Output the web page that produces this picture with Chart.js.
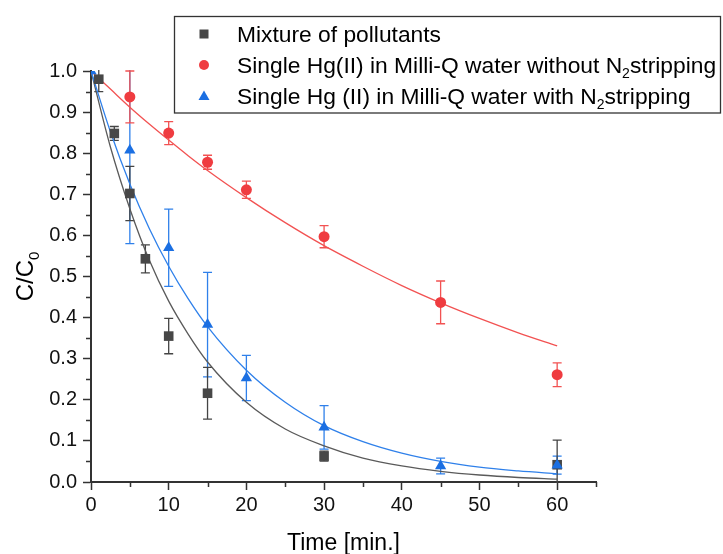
<!DOCTYPE html>
<html><head><meta charset="utf-8">
<script src="https://cdn.jsdelivr.net/npm/chart.js@4/dist/chart.umd.min.js"></script>
<style>html,body{margin:0;padding:0;background:#fff}#wrap{width:723px;height:554px}</style>
</head><body><div id="wrap"><canvas id="c" width="723" height="554"></canvas></div>
<script>
const FONT = '"Liberation Sans", Arial, sans-serif';

// ---- data ----
const xTicks = [0, 10, 20, 30, 40, 50, 60];
const yTicks = [0.0, 0.1, 0.2, 0.3, 0.4, 0.5, 0.6, 0.7, 0.8, 0.9, 1.0];

const timeMix = [1, 3, 5, 7, 10, 15, 30, 60];
const mixValues = [0.98, 0.848, 0.702, 0.543, 0.355, 0.216, 0.063, 0.042];
const mixErrors = [0.03, 0.017, 0.066, 0.034, 0.043, 0.063, 0.012, 0.060];

const timeRed = [5, 10, 15, 20, 30, 45, 60];
const redValues = [0.937, 0.849, 0.778, 0.711, 0.597, 0.437, 0.261];
const redErrors = [0.063, 0.028, 0.017, 0.021, 0.027, 0.052, 0.029];

const timeBlue = [0, 5, 10, 15, 20, 30, 45, 60];
const blueValues = [1.0, 0.807, 0.57, 0.383, 0.253, 0.133, 0.039, 0.041];
const blueErrors = [0, 0.227, 0.094, 0.127, 0.055, 0.053, 0.019, 0.022];

// fitted curves
const fitTime = [0, 2.5, 5, 7.5, 10, 12.5, 15, 20, 25, 30, 35, 40, 45, 50, 55, 60];
const fitMix  = [1, 0.815, 0.665, 0.54, 0.44, 0.36, 0.292, 0.194, 0.129, 0.088, 0.058, 0.039, 0.026, 0.017, 0.011, 0.007];
const fitBlue = [1, 0.852, 0.725, 0.617, 0.525, 0.446, 0.378, 0.272, 0.194, 0.137, 0.098, 0.07, 0.05, 0.036, 0.027, 0.02];
const fitRed  = [1, 0.956, 0.912, 0.871, 0.832, 0.794, 0.758, 0.692, 0.631, 0.575, 0.525, 0.478, 0.436, 0.398, 0.363, 0.331];

const names = [
  'Mixture of pollutants',
  'Single Hg(II) in Milli-Q water without N',
  'Single Hg (II) in Milli-Q water with N'
];

const C_BLACK = '#474747', C_BLACK_LINE = '#5a5a5a';
const C_RED = '#ef3c40', C_RED_LINE = '#f25252';
const C_BLUE = '#1b6fe2', C_BLUE_LINE = '#2f80ea';

const pts = (xs, ys) => xs.map((x, i) => ({x, y: ys[i]}));

const errorBars = {
  id: 'errorBars',
  beforeDatasetsDraw(chart) {
    const {ctx, chartArea: a, scales: {x, y}} = chart;
    ctx.save();
    ctx.beginPath();
    ctx.rect(a.left - 10, a.top - 1, a.right - a.left + 20, a.bottom - a.top + 2);
    ctx.clip();
    chart.data.datasets.forEach(ds => {
      if (!ds.errors) return;
      ctx.strokeStyle = ds.errColor;
      ctx.lineWidth = 1.3;
      ds.data.forEach((p, i) => {
        const e = ds.errors[i];
        if (!e) return;
        const px = x.getPixelForValue(p.x);
        const yHi = y.getPixelForValue(p.y + e);
        const yLo = y.getPixelForValue(p.y - e);
        const cw = 4.5;
        ctx.beginPath();
        ctx.moveTo(px, yHi); ctx.lineTo(px, yLo);
        if (yHi >= a.top - 1) { ctx.moveTo(px - cw, yHi); ctx.lineTo(px + cw, yHi); }
        if (yLo <= a.bottom + 1) { ctx.moveTo(px - cw, yLo); ctx.lineTo(px + cw, yLo); }
        ctx.stroke();
      });
    });
    ctx.restore();
  }
};

const decorations = {
  id: 'decorations',
  afterDraw(chart) {
    const {ctx, chartArea: a, scales: {x, y}} = chart;
    ctx.save();
    // minor ticks
    ctx.strokeStyle = '#333';
    ctx.lineWidth = 1.5;
    ctx.beginPath();
    for (let v = 5; v <= 65; v += 10) {
      const px = Math.round(x.getPixelForValue(v)) + 0.5;
      ctx.moveTo(px, a.bottom); ctx.lineTo(px, a.bottom + 5);
    }
    for (let k = 0; k < 10; k++) {
      const py = Math.round(y.getPixelForValue(0.05 + k * 0.1)) + 0.5;
      ctx.moveTo(a.left, py); ctx.lineTo(a.left - 5, py);
    }
    ctx.stroke();

    // axis titles
    ctx.fillStyle = '#000';
    ctx.font = '23px ' + FONT;
    ctx.textAlign = 'center';
    ctx.textBaseline = 'alphabetic';
    ctx.fillText('Time [min.]', (a.left + a.right) / 2, 550);

    ctx.save();
    ctx.translate(33, (a.top + a.bottom) / 2);
    ctx.rotate(-Math.PI / 2);
    ctx.textAlign = 'left';
    ctx.font = '24px ' + FONT;
    const w1 = ctx.measureText('C/C').width;
    ctx.font = '15px ' + FONT;
    const w2 = ctx.measureText('0').width;
    const s = -(w1 + w2) / 2;
    ctx.font = '24px ' + FONT;
    ctx.fillText('C/C', s, 0);
    ctx.font = '15px ' + FONT;
    ctx.fillText('0', s + w1, 6);
    ctx.restore();

    // legend
    ctx.strokeStyle = '#333';
    ctx.lineWidth = 1.3;
    ctx.strokeRect(174.5, 16.5, 546, 96.5);
    const mx = 204, tx = 237;
    const rows = [34, 65, 96];
    ctx.fillStyle = C_BLACK;
    ctx.fillRect(mx - 4.5, rows[0] - 4.5, 9, 9);
    ctx.fillStyle = C_RED;
    ctx.beginPath(); ctx.arc(mx, rows[1], 5, 0, Math.PI * 2); ctx.fill();
    ctx.fillStyle = C_BLUE;
    ctx.beginPath();
    ctx.moveTo(mx, rows[2] - 5.5); ctx.lineTo(mx + 5.5, rows[2] + 4); ctx.lineTo(mx - 5.5, rows[2] + 4);
    ctx.closePath(); ctx.fill();

    const LF = '22.8px ' + FONT;
    ctx.fillStyle = '#000';
    ctx.textAlign = 'left';
    ctx.font = LF;
    ctx.fillText(names[0], tx, rows[0] + 8);
    [1, 2].forEach(r => {
      ctx.font = LF;
      ctx.fillText(names[r], tx, rows[r] + 8);
      let cx = tx + ctx.measureText(names[r]).width;
      ctx.font = '14px ' + FONT;
      ctx.fillText('2', cx, rows[r] + 13);
      cx += ctx.measureText('2').width;
      ctx.font = LF;
      ctx.fillText('stripping', cx, rows[r] + 8);
    });
    ctx.restore();
  }
};

new Chart(document.getElementById('c'), {
  type: 'scatter',
  data: {
    datasets: [
      { label: 'blue pts', data: pts(timeBlue, blueValues), errors: blueErrors, errColor: C_BLUE_LINE,
        pointStyle: 'triangle', pointRadius: 6.5, backgroundColor: C_BLUE, borderWidth: 0, order: 0 },
      { label: 'mix pts', data: pts(timeMix, mixValues), errors: mixErrors, errColor: '#444',
        pointStyle: 'rect', pointRadius: 6.8, backgroundColor: C_BLACK, borderWidth: 0, order: 1 },
      { label: 'red pts', data: pts(timeRed, redValues), errors: redErrors, errColor: C_RED_LINE,
        pointStyle: 'circle', pointRadius: 5.5, backgroundColor: C_RED, borderWidth: 0, order: 2 },
      { label: 'fit blue', data: pts(fitTime, fitBlue), showLine: true, pointRadius: 0, borderColor: C_BLUE_LINE,
        borderWidth: 1.3, cubicInterpolationMode: 'monotone', order: 3 },
      { label: 'fit mix', data: pts(fitTime, fitMix), showLine: true, pointRadius: 0, borderColor: C_BLACK_LINE,
        borderWidth: 1.3, cubicInterpolationMode: 'monotone', order: 4 },
      { label: 'fit red', data: pts(fitTime, fitRed), showLine: true, pointRadius: 0, borderColor: C_RED_LINE,
        borderWidth: 1.3, cubicInterpolationMode: 'monotone', order: 5 }
    ]
  },
  options: {
    responsive: false,
    animation: false,
    layout: { padding: { top: 71, right: 127, left: 0, bottom: 0 } },
    plugins: { legend: { display: false }, tooltip: { enabled: false } },
    scales: {
      x: {
        type: 'linear', min: 0, max: 65,
        afterFit: s => { s.height = 72; },
        afterBuildTicks: s => { s.ticks = xTicks.map(v => ({value: v})); },
        grid: { drawOnChartArea: false, drawTicks: true, tickLength: 8, tickColor: '#333', tickWidth: 1.5 },
        border: { display: true, color: '#333', width: 2 },
        ticks: { color: '#111', font: { family: FONT, size: 20 }, padding: 3, maxRotation: 0,
                 callback: v => String(v) }
      },
      y: {
        type: 'linear', min: 0, max: 1,
        afterFit: s => { s.width = 91; },
        afterBuildTicks: s => { s.ticks = yTicks.map(v => ({value: v})); },
        grid: { drawOnChartArea: false, drawTicks: true, tickLength: 8, tickColor: '#333', tickWidth: 1.5 },
        border: { display: true, color: '#333', width: 2 },
        ticks: { color: '#111', font: { family: FONT, size: 20 }, padding: 6,
                 callback: v => Number(v).toFixed(1) }
      }
    }
  },
  plugins: [errorBars, decorations]
});
</script>
</body></html>
